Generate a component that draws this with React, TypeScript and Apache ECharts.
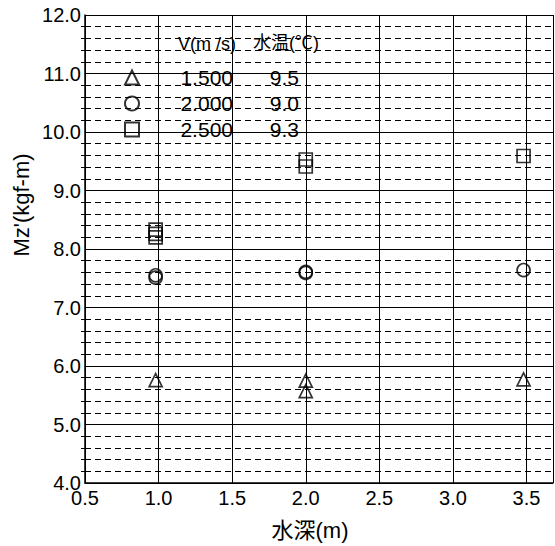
import React, { useEffect, useRef } from "react";
import * as echarts from "echarts";

const FONT = '"Liberation Sans", Arial, "Noto Sans CJK JP", sans-serif';

const speeds = ["1.500", "2.000", "2.500"];
const temps = ["9.5", "9.0", "9.3"];
const symbols = ["triangle", "circle", "rect"];

const seriesTriangle: number[][] = [
  [0.98, 5.76],
  [2.0, 5.75],
  [2.0, 5.57],
  [3.48, 5.77],
];
const seriesCircle: number[][] = [
  [0.98, 7.51],
  [0.98, 7.55],
  [2.0, 7.59],
  [2.0, 7.61],
  [3.48, 7.64],
];
const seriesSquare: number[][] = [
  [0.98, 8.2],
  [0.98, 8.26],
  [0.98, 8.33],
  [2.0, 9.41],
  [2.0, 9.53],
  [3.48, 9.59],
];
const allSeries = [seriesTriangle, seriesCircle, seriesSquare];

const xMin = 0.5;
const xMax = 3.68;
const yMin = 4;
const yMax = 12;

export default function App() {
  const ref = useRef<HTMLDivElement>(null);
  useEffect(() => {
    if (!ref.current) return;
    const chart = echarts.init(ref.current, undefined, { renderer: "svg" });
    const tempByName: Record<string, string> = {};
    speeds.forEach((s, i) => (tempByName[s] = temps[i]));
    chart.setOption({
      animation: false,
      backgroundColor: "#fff",
      textStyle: { fontFamily: FONT },
      grid: { left: 85, top: 15, right: 2, bottom: 63, containLabel: false },
      legend: {
        orient: "vertical",
        left: 119,
        top: 62,
        itemWidth: 14,
        itemHeight: 14,
        itemGap: 5,
        data: speeds,
        formatter: (name: string) => `{a|${name}}{b|${tempByName[name]}}`,
        textStyle: {
          fontFamily: FONT,
          color: "#000",
          lineHeight: 16,
          rich: {
            a: { width: 89, align: "right", fontSize: 21, fontFamily: FONT, color: "#000", lineHeight: 16 },
            b: { width: 66, align: "right", fontSize: 21, fontFamily: FONT, color: "#000", lineHeight: 16 },
          },
        },
      },
      graphic: [
        {
          type: "text",
          left: 178,
          top: 35,
          style: { text: "V(m /s)", font: `18px ${FONT}`, fill: "#000" },
        },
        {
          type: "text",
          left: 253,
          top: 34,
          style: { text: "水温(℃)", font: `18px ${FONT}`, fill: "#000" },
        },
        {
          type: "text",
          x: 21,
          y: 205,
          rotation: Math.PI / 2,
          style: {
            text: "Mz'(kgf-m)",
            font: `22px ${FONT}`,
            fill: "#000",
            align: "center",
            verticalAlign: "middle",
          },
        },
        {
          type: "text",
          x: 310,
          y: 530,
          style: {
            text: "水深(m)",
            font: `22px ${FONT}`,
            fill: "#000",
            align: "center",
            verticalAlign: "middle",
          },
        },
      ],
      xAxis: {
        type: "value",
        min: xMin,
        max: xMax,
        interval: 0.5,
        axisLine: { show: true, lineStyle: { color: "#000", width: 1.5 } },
        axisTick: { show: false },
        axisLabel: {
          fontSize: 20,
          color: "#000",
          margin: 5,
          showMaxLabel: false,
          formatter: (v: number) => v.toFixed(1),
        },
        splitLine: { show: true, lineStyle: { color: "#000", width: 1 } },
      },
      yAxis: {
        type: "value",
        min: yMin,
        max: yMax,
        interval: 1,
        axisLine: { show: true, lineStyle: { color: "#000", width: 1.5 } },
        axisTick: { show: false },
        minorTick: { show: true, splitNumber: 5, length: 4, lineStyle: { color: "#000" } },
        axisLabel: {
          fontSize: 20,
          color: "#000",
          margin: 4,
          formatter: (v: number) => v.toFixed(1),
        },
        splitLine: { show: true, lineStyle: { color: "#000", width: 1 } },
        minorSplitLine: {
          show: true,
          lineStyle: { color: "#000", width: 1, type: [6, 4] },
        },
      },
      series: allSeries.map((d, i) => ({
        type: "scatter",
        name: speeds[i],
        data: d,
        symbol: symbols[i],
        symbolSize: 13,
        itemStyle: { color: "rgba(255,255,255,0)", borderColor: "#000", borderWidth: 1.7 },
        z: 5,
      })),
    });
    return () => chart.dispose();
  }, []);
  return (
    <div
      ref={ref}
      style={{ position: "absolute", left: 0, top: 0, width: 555, height: 546 }}
    />
  );
}
